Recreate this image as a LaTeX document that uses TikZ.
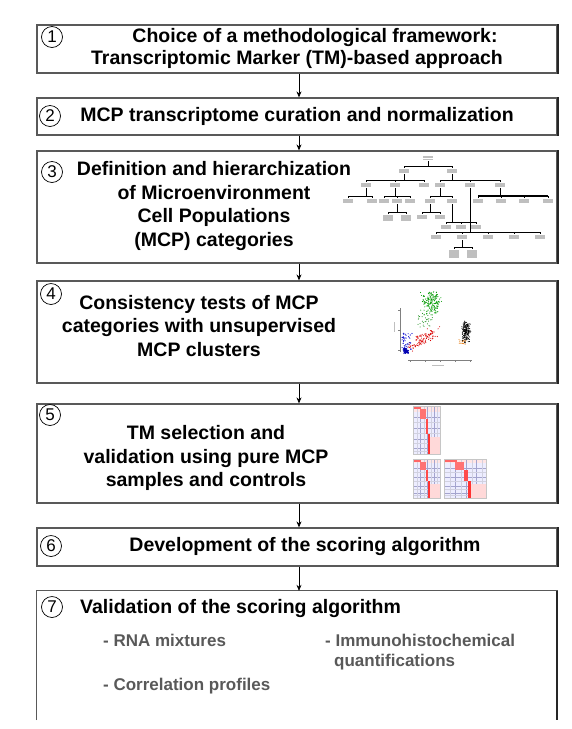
\documentclass[tikz,border=0pt]{standalone}
\usepackage{fontspec}
\setmainfont{Liberation Sans}
\usetikzlibrary{arrows.meta}
\newcommand{\tlab}[2]{\fill[gray!50] ({#1-5},{#2-0.6}) rectangle ({#1+5},{#2+0.8});}
\newcommand{\hpanel}{%
  \fill[blue!7] (0,0) rectangle (30,44);
  \fill[red!10] (0,0) rectangle (30,5);
  \draw[blue!30!gray!55, line width=0.25pt] (8,0)--(8,44) (16,0)--(16,44) (23,0)--(23,44)
       (0,10)--(30,10) (0,20)--(30,20) (0,30)--(30,30) (0,38)--(30,38);
  \draw[blue!20!gray!30, line width=0.15pt] (4,0)--(4,44) (12,0)--(12,44) (20,0)--(20,44) (27,0)--(27,44)
       (0,15)--(30,15) (0,25)--(30,25) (0,34)--(30,34) (0,41)--(30,41);
  \fill[red!60] (0,0) rectangle (9,3);
  \fill[red!55] (8,3) rectangle (14,12);
  \fill[red!70] (14,12) rectangle (17,25);
  \fill[red!80] (17,25) rectangle (19,44);
  \fill[red!15] (19,28) rectangle (30,44);
  \draw[gray!45, line width=0.3pt] (0,0) rectangle (30,44);}
\begin{document}
\begin{tikzpicture}[x=1pt,y=-1pt,
  box/.style={draw=gray!70!black, line width=1.2pt, minimum width=520pt, inner sep=0pt},
  title/.style={font=\bfseries\fontsize{19.5}{23.7}\selectfont, align=center, inner sep=0pt},
  num/.style={circle, draw, line width=0.7pt, inner sep=0pt, minimum size=21pt, font=\fontsize{17}{17}\selectfont},
  sub/.style={font=\bfseries\fontsize{17}{21}\selectfont, text=gray!70!black, anchor=west, inner sep=0pt},
  arr/.style={-{Stealth[length=6pt,width=5pt]}, line width=0.7pt},
  edge/.style={line width=1.8pt, black!85}]
\useasboundingbox (0,0) rectangle (571,729);

% boxes
\node[box, minimum height=48pt] (b1) at (297,49) {};
\node[box, minimum height=37pt] (b2) at (297,116.5) {};
\node[box, minimum height=112pt] (b3) at (297,207) {};
\node[box, minimum height=102pt] (b4) at (297,332) {};
\node[box, minimum height=99pt] (b5) at (297,453.5) {};
\node[box, minimum height=38pt] (b6) at (297,547) {};
\node[minimum width=520pt, minimum height=129pt, inner sep=0pt] (b7) at (297,655.5) {};
\draw[gray!70!black, line width=1.2pt] (b7.south west) -- (b7.north west) -- (b7.north east) -- (b7.south east);
\foreach \b in {b1,b2,b3,b4,b5,b6,b7} \draw[edge] (\b.north east) -- (\b.south east);

% arrows
\coordinate (ax) at (299,0);
\draw[arr] (b1.south -| ax) -- (b2.north -| ax);
\draw[arr] (b2.south -| ax) -- (b3.north -| ax);
\draw[arr] (b3.south -| ax) -- (b4.north -| ax);
\draw[arr] (b4.south -| ax) -- (b5.north -| ax);
\draw[arr] (b5.south -| ax) -- (b6.north -| ax);
\draw[arr] (b6.south -| ax) -- (b7.north -| ax);

% circled numbers
\node[num] (n1) at (52,37) {1};
\node[num] (n2) at (50,116) {2};
\node[num] (n3) at (52,172) {3};
\node[num] (n4) at (51,294) {4};
\node[num] (n5) at (50,415) {5};
\node[num] (n6) at (51,546) {6};
\node[num] (n7) at (52,607) {7};

% texts
\node[title] (t1a) at (315,37) {Choice of a methodological framework:};
\node[title] (t1b) at (297,59) {Transcriptomic Marker (TM)-based approach};
\node[title] (t2) at (297,116) {MCP transcriptome curation and normalization};
\node[title] (t3) at (214,206) {Definition and hierarchization\\of Microenvironment\\Cell Populations\\(MCP) categories};
\node[title] (t4) at (199,326) {Consistency tests of MCP\\categories with unsupervised\\MCP clusters};
\node[title] (t5) at (206,458) {TM selection and\\validation using pure MCP\\samples and controls};
\node[title] (t6) at (305,546) {Development of the scoring algorithm};
\node[title, anchor=west] (t7) at (80,608) {Validation of the scoring algorithm};
\node[sub] (s1) at (103,640) {- RNA mixtures};
\node[sub] (s2) at (325,640) {- Immunohistochemical};
\node[sub] (s3) at (334,662) {quantifications};
\node[sub] (s4) at (103,686) {- Correlation profiles};

% dendrogram (box 3)
\begin{scope}[line width=0.45pt]
\tlab{428}{157}\tlab{428}{159.5}
\draw (428,161) -- (428,166) (404,166) -- (452,166) (404,166)--(404,168) (452,166)--(452,168);
\tlab{404}{170}\tlab{404}{172} \tlab{452}{170}\tlab{452}{172}
\draw (404,174)--(404,180) (366,180)--(424,180);
\foreach \x in {366,395,424} {\draw (\x,180)--(\x,182); \tlab{\x}{184}\tlab{\x}{186}}
\draw (452,174)--(452,180) (440,180)--(500,180);
\foreach \x in {440,470,500} {\draw (\x,180)--(\x,182); \tlab{\x}{184}\tlab{\x}{186}}
\draw (366,188)--(366,196) (348,196)--(372,196);
\foreach \x in {348,372} {\draw (\x,196)--(\x,198); \tlab{\x}{200}\tlab{\x}{202}}
\draw (395,188)--(395,196) (384,196)--(410,196);
\foreach \x in {384,397,410} {\draw (\x,196)--(\x,198); \tlab{\x}{200}\tlab{\x}{202}}
\draw (397,204)--(397,212) (388,212)--(406,212);
\foreach \x in {388,406} {\draw (\x,212)--(\x,214); \tlab{\x}{216}\tlab{\x}{218}\tlab{\x}{220}}
\draw (440,188)--(440,196) (430,196)--(452,196);
\foreach \x in {430,452} {\draw (\x,196)--(\x,198); \tlab{\x}{200}\tlab{\x}{202}}
\draw (430,204)--(430,212) (422,212)--(440,212);
\foreach \x in {422,440} {\draw (\x,212)--(\x,214); \tlab{\x}{216}\tlab{\x}{218}}
\draw (500,188)--(500,196);
\draw[line width=1.1pt] (478,196)--(548,196);
\foreach \x in {478,501,524,548} {\draw (\x,196)--(\x,198); \tlab{\x}{200}\tlab{\x}{202}}
\draw (470,188)--(470,232);
\draw[line width=1pt] (436,232)--(540,232);
\foreach \x in {436,462,488,514,540} {\draw (\x,232)--(\x,234); \tlab{\x}{236}\tlab{\x}{238}}
\draw (462,240)--(462,247) (454,247)--(472,247);
\foreach \x in {454,472} {\draw (\x,247)--(\x,249); \tlab{\x}{251}\tlab{\x}{253}\tlab{\x}{255}\tlab{\x}{257}}
\draw (452,204)--(452,222) (446,222)--(476,222);
\foreach \x in {446,461,476} {\draw (\x,222)--(\x,224); \tlab{\x}{226}\tlab{\x}{228}}
\end{scope}

% scatter plot (box 4)
\begin{scope}
\pgfmathsetseed{7}
\draw[gray, line width=0.3pt] (400,308)--(400,352) (408,360)--(472,360);
\foreach \t in {310,330,350} \draw[gray, line width=0.3pt] (398,\t)--(400,\t);
\foreach \t in {410,425,440,455,470} \draw[gray, line width=0.3pt] (\t,360)--(\t,362);
\fill[gray!50] (394,322) rectangle (395,332);
\fill[gray!50] (432,365) rectangle (444,366);
\foreach \i in {1,...,170} \fill[green!60!black] ({431+6*(rand+rand)},{303+7*(rand+rand)}) circle (0.55pt);
\foreach \i in {1,...,30} \fill[green!50!black] ({425+8*rand},{320+7*rand}) circle (0.5pt);
\foreach \i in {1,...,110} {\pgfmathsetmacro\tt{rnd}
  \fill[red!85!black] ({410+26*\tt+5*rand},{348-17*\tt+5*rand}) circle (0.55pt);}
\foreach \i in {1,...,50} \fill[blue!80!black] ({407+5*rand},{342+9*rand}) circle (0.55pt);
\foreach \i in {1,...,70} \fill[blue!70!black] ({406+2.5*rand},{351+2.5*rand}) circle (0.6pt);
\foreach \i in {1,...,18} \fill[orange!90!black] ({462+4*rand},{342+2.5*rand}) circle (0.5pt);
\foreach \i in {1,...,170} \fill[black] ({466+2.5*(rand+rand)},{332+6*(rand+rand)}) circle (0.55pt);
\end{scope}

% heatmaps (box 5)
\begin{scope}[shift={(413,406)}, xscale=0.9, yscale=1.1]\hpanel\end{scope}
\begin{scope}[shift={(413,459)}, xscale=0.9, yscale=0.89]\hpanel\end{scope}
\begin{scope}[shift={(444,459)}, xscale=1.4, yscale=0.89]\hpanel\end{scope}
\end{tikzpicture}
\end{document}
